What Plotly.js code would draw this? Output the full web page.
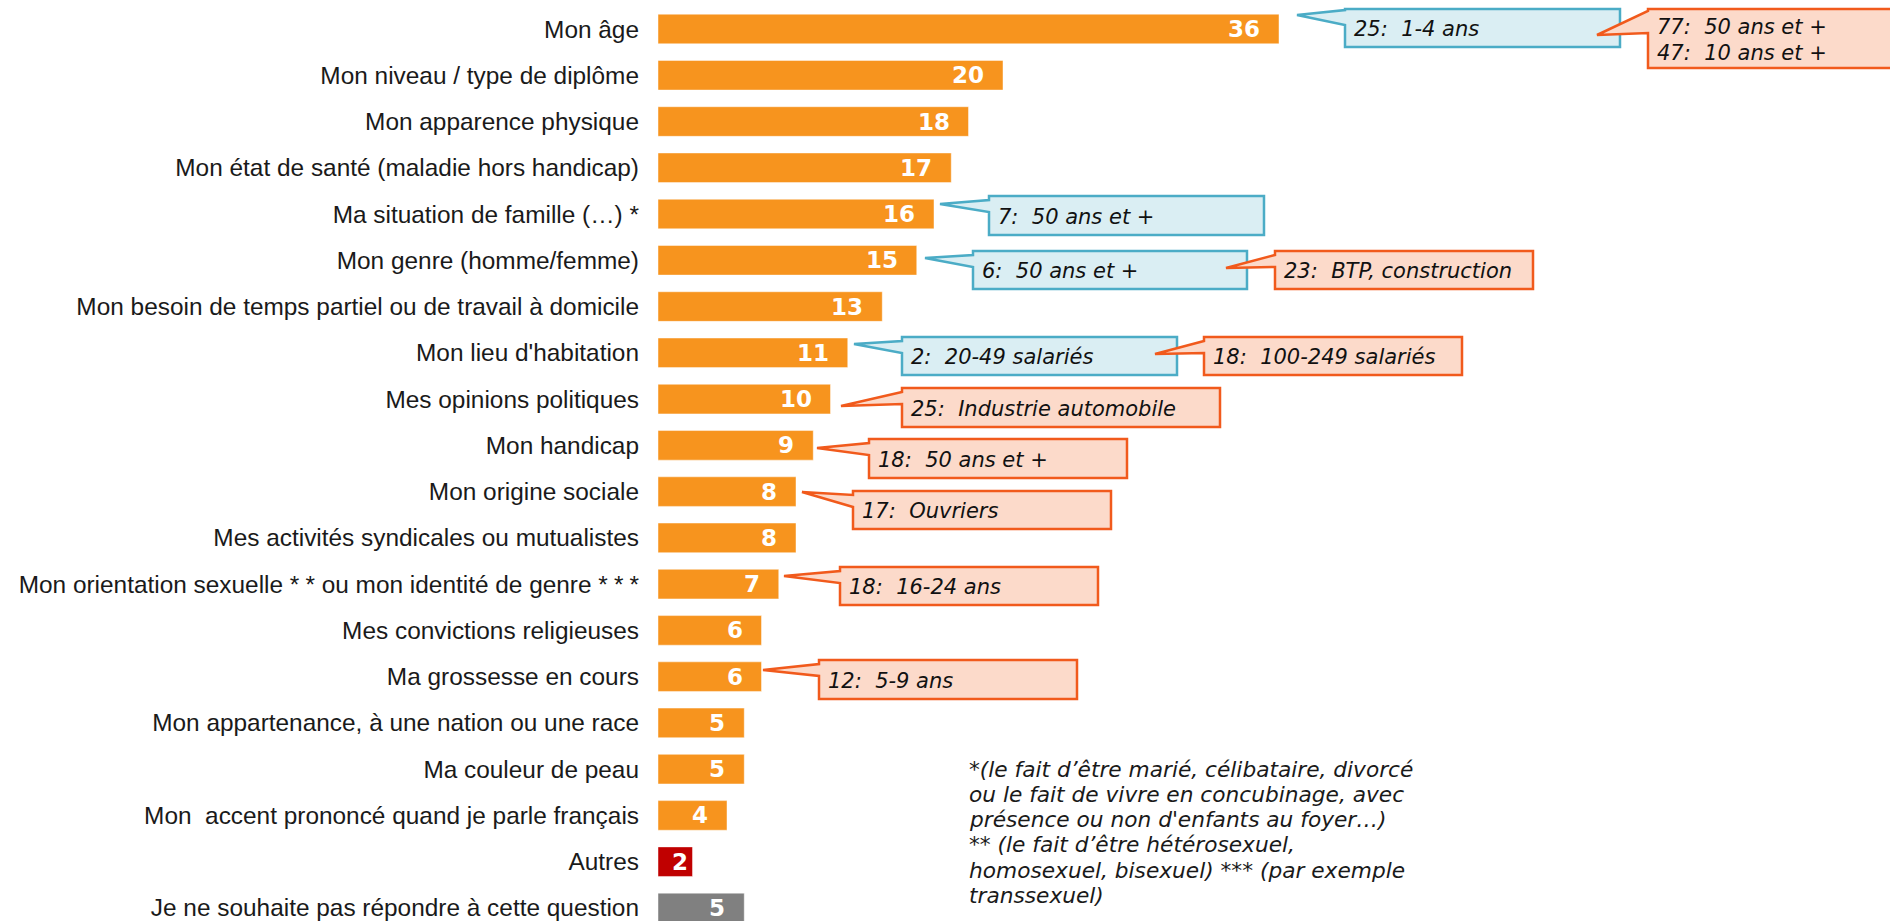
<!DOCTYPE html>
<html>
<head>
<meta charset="utf-8">
<script src="https://cdn.plot.ly/plotly-3.0.1.min.js"></script>
<style>
  html, body { margin: 0; padding: 0; background: #fff; }
  #chart { width: 1890px; height: 921px; }
</style>
</head>
<body>
<div id="chart"></div>
<script>
const categories = [
    'Mon âge',
    'Mon niveau / type de diplôme',
    'Mon apparence physique',
    'Mon état de santé (maladie hors handicap)',
    'Ma situation de famille (…) *',
    'Mon genre (homme/femme)',
    'Mon besoin de temps partiel ou de travail à domicile',
    "Mon lieu d'habitation",
    'Mes opinions politiques',
    'Mon handicap',
    'Mon origine sociale',
    'Mes activités syndicales ou mutualistes',
    'Mon orientation sexuelle *\u2005* ou mon identité de genre *\u2005*\u2005*',
    'Mes convictions religieuses',
    'Ma grossesse en cours',
    'Mon appartenance, à une nation ou une race',
    'Ma couleur de peau',
    'Mon\u00a0 accent prononcé quand je parle français',
    'Autres',
    'Je ne souhaite pas répondre à cette question'
];
const values = [36, 20, 18, 17, 16, 15, 13, 11, 10, 9, 8, 8, 7, 6, 6, 5, 5, 4, 2, 5];

const footnoteLines = [
    '*(le fait d’être marié, célibataire, divorcé',
    'ou le fait de vivre en concubinage, avec',
    "présence ou non d'enfants au foyer…)",
    '** (le fait d’être hétérosexuel,',
    'homosexuel, bisexuel) *** (par exemple',
    'transsexuel)'
];

// callouts, in page pixels: tip of the tail, box [x0, y0, x1, y1]
const callouts = [
    { lines: ['25:\u00a0 1-4 ans'], kind: 'blue', tip: [1297, 15], box: [1345, 9, 1620, 47], base: [1, 16] },
    { lines: ['77:\u00a0 50 ans et +', '47:\u00a0 10 ans et +'], kind: 'orange', tip: [1597, 35], box: [1648, 9, 1905, 68], base: [2, 24] },
    { lines: ['7:\u00a0 50 ans et +'], kind: 'blue', tip: [940, 204], box: [989, 196, 1264, 235] },
    { lines: ['6:\u00a0 50 ans et +'], kind: 'blue', tip: [925, 258], box: [973, 251, 1247, 289] },
    { lines: ['23:\u00a0 BTP, construction'], kind: 'orange', tip: [1226, 268], box: [1275, 251, 1533, 289] },
    { lines: ['2:\u00a0 20-49 salariés'], kind: 'blue', tip: [854, 344], box: [902, 337, 1177, 375] },
    { lines: ['18:\u00a0 100-249 salariés'], kind: 'orange', tip: [1155, 354], box: [1204, 337, 1462, 375] },
    { lines: ['25:\u00a0 Industrie automobile'], kind: 'orange', tip: [841, 406], box: [902, 388, 1220, 427] },
    { lines: ['18:\u00a0 50 ans et +'], kind: 'orange', tip: [817, 448], box: [869, 439, 1127, 478] },
    { lines: ['17:\u00a0 Ouvriers'], kind: 'orange', tip: [802, 492], box: [853, 491, 1111, 529] },
    { lines: ['18:\u00a0 16-24 ans'], kind: 'orange', tip: [784, 576], box: [840, 567, 1098, 605] },
    { lines: ['12:\u00a0 5-9 ans'], kind: 'orange', tip: [763, 670], box: [819, 660, 1077, 699] }
];

const W = 1890, H = 921, L = 658;
const pxPerUnit = 17.25, rowPx = 46.26, firstRowPx = 29;
const yTop = -firstRowPx / rowPx;
const yBottom = yTop + H / rowPx;

const px = x => (x - L) / (W - L);
const py = y => 1 - y / H;

const styles = {
    blue: { fill: '#DAEEF3', line: '#4BACC6' },
    orange: { fill: '#FCDACA', line: '#F15A1C' }
};

const barColors = categories.map(c =>
    c === 'Autres' ? '#C00000' : c.startsWith('Je ne souhaite') ? '#808080' : '#F7941E');

const trace = {
    type: 'bar',
    orientation: 'h',
    y: categories,
    x: values,
    marker: { color: barColors, line: { color: 'rgba(255,255,255,0.45)', width: 1 } },
    hoverinfo: 'x+y'
};

const annotations = [];
const shapes = [];

values.forEach((v, i) => {
    annotations.push({
        x: v, y: categories[i], xref: 'x', yref: 'y',
        text: String(v), showarrow: false,
        xanchor: 'right', yanchor: 'middle',
        xshift: -Math.min(17, Math.max(2, v * pxPerUnit - 32)),
        font: { family: 'DejaVu Sans', size: 23, color: '#ffffff', weight: 'bold' }
    });
});

callouts.forEach(c => {
    const [x0, y0, x1, y1] = c.box;
    const b = c.base || [4, 16];
    const pts = [[x0, y0], [x1, y0], [x1, y1], [x0, y1], [x0, y0 + b[1]], c.tip, [x0, y0 + b[0]]];
    shapes.push({
        type: 'path', xref: 'paper', yref: 'paper', layer: 'above',
        path: 'M' + pts.map(p => px(p[0]).toFixed(5) + ',' + py(p[1]).toFixed(5)).join('L') + 'Z',
        fillcolor: styles[c.kind].fill,
        line: { color: styles[c.kind].line, width: 2.5 }
    });
    const mid = (y0 + y1) / 2 + 1;
    c.lines.forEach((t, k) => {
        annotations.push({
            x: px(x0 + 7), y: py(mid + (k - (c.lines.length - 1) / 2) * 26),
            xref: 'paper', yref: 'paper', showarrow: false,
            xanchor: 'left', yanchor: 'middle', text: t,
            font: { family: 'DejaVu Sans', size: 21, color: '#111111', style: 'italic' }
        });
    });
});

footnoteLines.forEach((t, k) => {
    annotations.push({
        x: px(967), y: py(769 + k * 25.3), xref: 'paper', yref: 'paper',
        showarrow: false, xanchor: 'left', yanchor: 'middle', text: t,
        font: { family: 'DejaVu Sans', size: 21.7, color: '#1a1a1a', style: 'italic' }
    });
});

const layout = {
    width: W,
    height: H,
    margin: { l: L, r: 0, t: 0, b: 0 },
    paper_bgcolor: '#ffffff',
    plot_bgcolor: '#ffffff',
    showlegend: false,
    bargap: 0.36,
    xaxis: { visible: false, range: [0, (W - L) / pxPerUnit], fixedrange: true },
    yaxis: {
        type: 'category',
        range: [yBottom, yTop],
        showgrid: false, zeroline: false, showline: false,
        ticks: '', ticklabelstandoff: 18,
        tickfont: { family: 'Liberation Sans, Arial, sans-serif', size: 24.4, color: '#1a1a1a' }
    },
    shapes: shapes,
    annotations: annotations
};

Plotly.newPlot('chart', [trace], layout, { displayModeBar: false, staticPlot: true });
</script>
</body>
</html>
